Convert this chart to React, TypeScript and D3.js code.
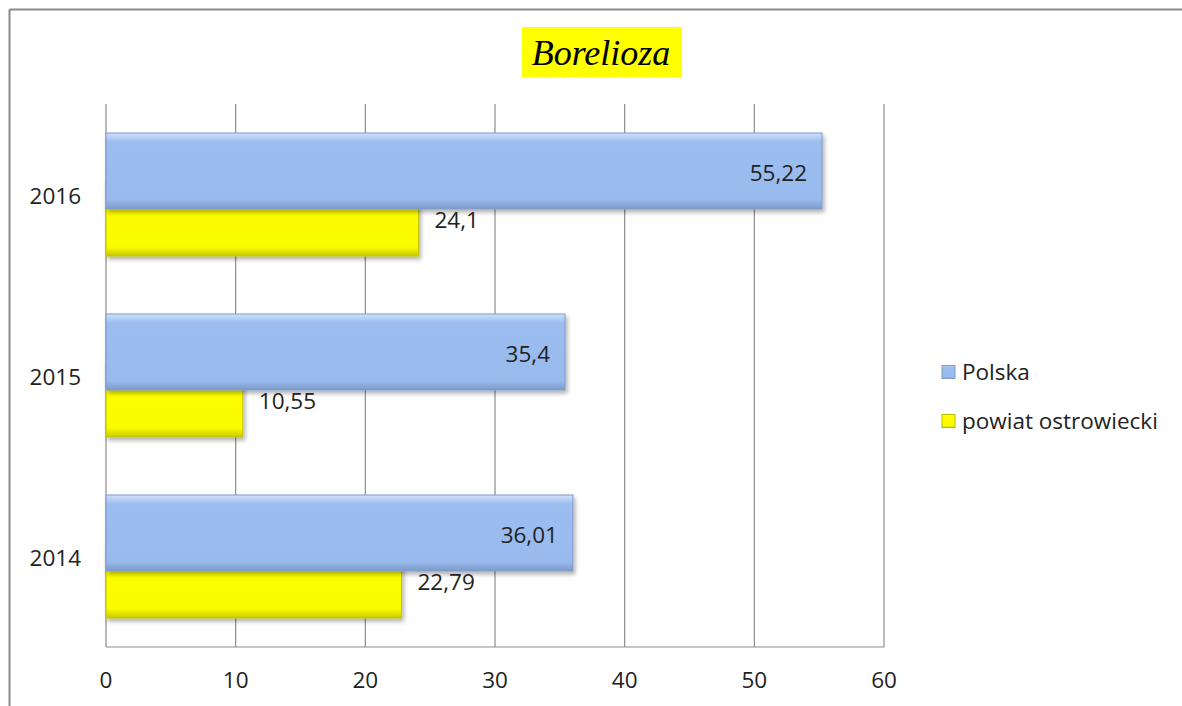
import React from "react";
import * as d3 from "d3";

const years = ["2016", "2015", "2014"];
const polska = [55.22, 35.4, 36.01];
const powiat = [24.1, 10.55, 22.79];
const xTicks = [0, 10, 20, 30, 40, 50, 60];
const seriesNames = ["Polska", "powiat ostrowiecki"];

const fmt = (v: number) => String(v).replace(".", ",");

const App = () => {
  const width = 1182;
  const height = 706;
  const plot = { left: 106, right: 884, top: 104, bottom: 647 };

  const x = d3.scaleLinear().domain([0, 60]).range([plot.left, plot.right]);
  const y = d3.scaleBand().domain(years).range([plot.top, plot.bottom]);

  const barH = 76;
  const shift = 23.5; // bars overlap, blue above yellow
  const font = "'Open Sans', 'Noto Sans', sans-serif";
  const fs = 22.5;

  return (
    <svg
      width={width}
      height={height}
      style={{ position: "absolute", left: 0, top: 0, background: "#fff" }}
    >
      <defs>
        <linearGradient id="blueG" x1="0" y1="0" x2="0" y2="1">
          <stop offset="0" stopColor="#cfe0fb" />
          <stop offset="0.12" stopColor="#9cbdf0" />
          <stop offset="0.88" stopColor="#99baed" />
          <stop offset="1" stopColor="#7c99c8" />
        </linearGradient>
        <linearGradient id="yellowG" x1="0" y1="0" x2="0" y2="1">
          <stop offset="0" stopColor="#ffff60" />
          <stop offset="0.12" stopColor="#ffff00" />
          <stop offset="0.88" stopColor="#fbfb00" />
          <stop offset="1" stopColor="#c8c800" />
        </linearGradient>
        <filter id="shadow" x="-5%" y="-20%" width="110%" height="150%">
          <feDropShadow dx="2" dy="3" stdDeviation="2" floodColor="#000" floodOpacity="0.3" />
        </filter>
      </defs>

      {/* outer frame */}
      <line x1={9.5} x2={width} y1={9.5} y2={9.5} stroke="#8a8a8a" strokeWidth={2} />
      <line x1={9.5} x2={9.5} y1={9.5} y2={height} stroke="#8a8a8a" strokeWidth={2} />

      {/* title */}
      <rect x={522} y={27} width={160} height={50} fill="#ffff00" />
      <text
        x={601}
        y={65}
        textAnchor="middle"
        fontFamily="'Liberation Serif', 'DejaVu Serif', serif"
        fontStyle="italic"
        fontSize={36}
        fill="#000"
      >
        Borelioza
      </text>

      {/* grid */}
      {xTicks.map((t) => (
        <line
          key={t}
          x1={x(t)}
          x2={x(t)}
          y1={plot.top}
          y2={plot.bottom}
          stroke="#8c8c8c"
          strokeWidth={1.2}
        />
      ))}
      <line x1={plot.left} x2={plot.right} y1={plot.bottom} y2={plot.bottom} stroke="#8c8c8c" strokeWidth={1.2} />

      {/* x tick labels */}
      {xTicks.map((t) => (
        <text key={t} x={x(t)} y={688} textAnchor="middle" fontFamily={font} fontSize={fs} fill="#222">
          {t}
        </text>
      ))}

      {/* y labels */}
      {years.map((yr) => (
        <text
          key={yr}
          x={81}
          y={(y(yr) as number) + y.bandwidth() / 2 + 9.5}
          textAnchor="end"
          fontFamily={font}
          fontSize={fs}
          fill="#222"
        >
          {yr}
        </text>
      ))}

      {/* bars */}
      {years.map((yr, i) => {
        const c = (y(yr) as number) + y.bandwidth() / 2;
        const yb = c - shift - barH / 2;
        const yy = c + shift - barH / 2;
        return (
          <g key={yr}>
            <rect
              x={x(0)}
              y={yy}
              width={x(powiat[i]) - x(0)}
              height={barH}
              fill="url(#yellowG)"
              stroke="#c4c400"
              strokeWidth={1}
              filter="url(#shadow)"
            />
            <rect
              x={x(0)}
              y={yb}
              width={x(polska[i]) - x(0)}
              height={barH}
              fill="url(#blueG)"
              stroke="#7f9ccc"
              strokeWidth={1}
              filter="url(#shadow)"
            />
            <text
              x={x(polska[i]) - 15}
              y={yb + barH / 2 + 9.5}
              textAnchor="end"
              fontFamily={font}
              fontSize={fs}
              fill="#222"
            >
              {fmt(polska[i])}
            </text>
            <text
              x={x(powiat[i]) + 16}
              y={yy + barH / 2 + 9.5}
              textAnchor="start"
              fontFamily={font}
              fontSize={fs}
              fill="#222"
            >
              {fmt(powiat[i])}
            </text>
          </g>
        );
      })}

      {/* legend */}
      {seriesNames.map((name, i) => {
        const ly = 372 + i * 49;
        return (
          <g key={name}>
            <rect
              x={942}
              y={ly - 6.5}
              width={13}
              height={13}
              fill={i === 0 ? "url(#blueG)" : "url(#yellowG)"}
              stroke={i === 0 ? "#7f9ccc" : "#b8b800"}
            />
            <text x={962} y={ly + 8} fontFamily={font} fontSize={fs} fill="#222">
              {name}
            </text>
          </g>
        );
      })}
    </svg>
  );
};

export default App;
